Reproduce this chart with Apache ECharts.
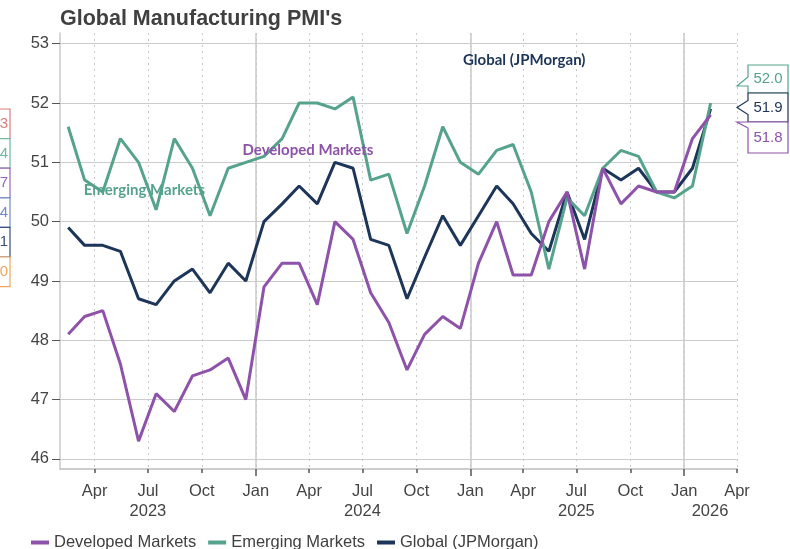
<!DOCTYPE html>
<html>
<head>
<meta charset="utf-8">
<script src="https://cdn.jsdelivr.net/npm/echarts@6/dist/echarts.min.js"></script>
<style>
  html, body { margin: 0; padding: 0; background: #ffffff; }
  #chart { width: 790px; height: 549px; }
</style>
</head>
<body>
<div id="chart"></div>
<script>
// Monthly readings, Feb 2023 – Feb 2026
const periods = [
  '2023-02','2023-03','2023-04','2023-05','2023-06','2023-07','2023-08','2023-09','2023-10','2023-11','2023-12',
  '2024-01','2024-02','2024-03','2024-04','2024-05','2024-06','2024-07','2024-08','2024-09','2024-10','2024-11','2024-12',
  '2025-01','2025-02','2025-03','2025-04','2025-05','2025-06','2025-07','2025-08','2025-09','2025-10','2025-11','2025-12',
  '2026-01','2026-02'
];
const developed = [48.1,48.4,48.5,47.6,46.3,47.1,46.8,47.4,47.5,47.7,47.0,
  48.9,49.3,49.3,48.6,50.0,49.7,48.8,48.3,47.5,48.1,48.4,48.2,
  49.3,50.0,49.1,49.1,50.0,50.5,49.2,50.9,50.3,50.6,50.5,50.5,
  51.4,51.8];
const emerging = [51.6,50.7,50.5,51.4,51.0,50.2,51.4,50.9,50.1,50.9,51.0,
  51.1,51.4,52.0,52.0,51.9,52.1,50.7,50.8,49.8,50.6,51.6,51.0,
  50.8,51.2,51.3,50.5,49.2,50.4,50.1,50.9,51.2,51.1,50.5,50.4,
  50.6,52.0];
const globalPmi = [49.9,49.6,49.6,49.5,48.7,48.6,49.0,49.2,48.8,49.3,49.0,
  50.0,50.3,50.6,50.3,51.0,50.9,49.7,49.6,48.7,49.4,50.1,49.6,
  50.1,50.6,50.3,49.8,49.5,50.5,49.7,50.9,50.7,50.9,50.5,50.5,
  50.9,51.9];

const seriesNames = ['Developed Markets', 'Emerging Markets', 'Global (JPMorgan)'];
const seriesColors = ['#8e52aa', '#56a38d', '#1c3559'];

// Axis ticks
const yTicks = [46, 47, 48, 49, 50, 51, 52, 53];
const quarterTicks = [
  '2023-04-01','2023-07-01','2023-10-01','2024-01-01','2024-04-01','2024-07-01','2024-10-01',
  '2025-01-01','2025-04-01','2025-07-01','2025-10-01','2026-01-01','2026-04-01'
];
const yearTicks = ['2024-01-01', '2025-01-01', '2026-01-01'];
// Year captions sit under the middle of each visible year span
const yearCaptions = ['2023-07-01', '2024-07-01', '2025-07-01', '2026-02-14'];
const monthNames = ['Jan','Feb','Mar','Apr','May','Jun','Jul','Aug','Sep','Oct','Nov','Dec'];

// In-plot series captions: [series index, date, value]
const captions = [
  [1, '2023-06-25', 50.53],
  [0, '2024-03-30', 51.20],
  [2, '2025-04-03', 52.73]
];

// Partly visible tags along the left edge
const edgeTags = [
  { text: '3', color: '#e07a7a' },
  { text: '4', color: '#6fb8a2' },
  { text: '7', color: '#9b65c0' },
  { text: '4', color: '#6f8cc8' },
  { text: '1', color: '#3a4f7e' },
  { text: '0', color: '#f4a55c' }
];

const FONT = "'Liberation Sans', Arial, sans-serif";

function ts(s) {
  const p = s.split('-').map(Number);
  return new Date(p[0], p[1] - 1, p[2] || 15).getTime();
}
function toPoints(vals) {
  return vals.map((v, i) => [ts(periods[i]), v]);
}

const xMin = ts('2023-02-01');
const xMax = ts('2026-04-01');
const values = [developed, emerging, globalPmi];

const chart = echarts.init(document.getElementById('chart'), null, { renderer: 'canvas' });

const grid = { left: 60, right: 53, top: 33, bottom: 80 };

const zOrder = [4, 3, 2];
const series = seriesNames.map((name, k) => ({
  name: name,
  type: 'line',
  xAxisIndex: 0,
  yAxisIndex: 0,
  data: toPoints(values[k]),
  showSymbol: false,
  symbol: 'none',
  z: zOrder[k],
  lineStyle: { width: 3, color: seriesColors[k] },
  itemStyle: { color: seriesColors[k] },
  emphasis: { disabled: true },
  markPoint: {
    symbol: 'rect',
    symbolSize: [1, 1],
    itemStyle: { color: 'rgba(0,0,0,0)' },
    silent: true,
    label: {
      show: true,
      position: 'inside',
      fontFamily: "Lato, 'Open Sans', sans-serif",
      fontWeight: 'bold',
      fontSize: 15,
      color: seriesColors[k],
      formatter: name
    },
    data: captions.filter(c => c[0] === k).map(c => ({ coord: [ts(c[1]), c[2]] }))
  }
}));

chart.setOption({
  animation: false,
  backgroundColor: '#ffffff',
  title: {
    text: "Global Manufacturing PMI's",
    left: 60,
    top: 8,
    padding: 0,
    textStyle: { fontFamily: FONT, fontWeight: 'bold', fontSize: 21.5, color: '#404040' }
  },
  legend: {
    data: seriesNames,
    left: 26,
    top: 529,
    icon: 'rect',
    itemWidth: 18,
    itemHeight: 4,
    itemGap: 12,
    textStyle: { fontFamily: FONT, fontSize: 16.5, color: '#404040' }
  },
  grid: grid,
  xAxis: [
    {
      type: 'value',
      position: 'bottom',
      min: xMin,
      max: xMax,
      axisLine: { show: true, onZero: false, lineStyle: { color: '#cccccc', width: 2 } },
      axisTick: {
        show: true,
        length: 4,
        customValues: quarterTicks.map(ts),
        lineStyle: { color: '#555555', width: 1.5 }
      },
      axisLabel: {
        customValues: quarterTicks.map(ts),
        margin: 14,
        fontFamily: FONT,
        fontSize: 16.5,
        color: '#444444',
        formatter: v => monthNames[new Date(v).getMonth()]
      },
      splitLine: { show: true, lineStyle: { color: '#c8c8c8', width: 1, type: [2, 4] } }
    },
    {
      type: 'value',
      position: 'bottom',
      min: xMin,
      max: xMax,
      axisLine: { show: false, onZero: false },
      axisTick: {
        show: true,
        length: 7,
        customValues: yearTicks.map(ts),
        lineStyle: { color: '#555555', width: 1.5 }
      },
      axisLabel: {
        customValues: yearCaptions.map(ts),
        margin: 34,
        fontFamily: FONT,
        fontSize: 16.5,
        color: '#444444',
        formatter: v => String(new Date(v).getFullYear())
      },
      splitLine: { show: true, lineStyle: { color: '#c8c8c8', width: 1.5, type: 'solid' } }
    }
  ],
  yAxis: {
    type: 'value',
    min: 45.83,
    max: 53.18,
    axisLine: { show: true, lineStyle: { color: '#c8c8c8', width: 1.5 } },
    axisTick: {
      show: true,
      length: 8,
      customValues: yTicks,
      lineStyle: { color: '#555555', width: 1 }
    },
    axisLabel: {
      customValues: yTicks,
      margin: 11,
      fontFamily: FONT,
      fontSize: 16.5,
      color: '#444444',
      formatter: v => String(Math.round(v))
    },
    splitLine: { show: true, lineStyle: { color: '#cccccc', width: 1.2 } }
  },
  series: series
});

// Latest-value tags at the right edge of the plot
function drawTags() {
  const w = chart.getWidth();
  const tipX = w - grid.right;
  const boxL = tipX + 11;
  const boxR = w - 2;
  const boxes = [
    { k: 1, top: 65, bottom: 93, shape: 'lowTip' },
    { k: 2, top: 93, bottom: 122, shape: 'midTip' },
    { k: 0, top: 122, bottom: 153, shape: 'topTip' }
  ];
  const els = [];
  boxes.forEach(b => {
    const color = seriesColors[b.k];
    const vals = values[b.k];
    const last = vals[vals.length - 1];
    let pts;
    if (b.shape === 'lowTip') {
      pts = [[boxL, b.top], [boxR, b.top], [boxR, b.bottom], [boxL, b.bottom],
             [boxL, b.bottom - 7], [tipX, b.bottom - 7], [boxL, b.top + 12]];
    } else if (b.shape === 'midTip') {
      const mid = (b.top + b.bottom) / 2;
      pts = [[boxL, b.top], [boxR, b.top], [boxR, b.bottom], [boxL, b.bottom],
             [boxL, mid + 7], [tipX, mid], [boxL, mid - 7]];
    } else {
      pts = [[tipX, b.top], [boxR, b.top], [boxR, b.bottom], [boxL, b.bottom],
             [boxL, b.top + 6]];
    }
    els.push({
      type: 'polygon',
      shape: { points: pts },
      style: { fill: '#ffffff', stroke: color, lineWidth: 1.2 },
      z: 100
    });
    els.push({
      type: 'text',
      x: (boxL + boxR) / 2,
      y: (b.top + b.bottom) / 2,
      style: {
        text: last.toFixed(1),
        fill: color,
        font: '15px ' + FONT,
        align: 'center',
        verticalAlign: 'middle'
      },
      z: 101
    });
  });

  // Partly visible tags on the left edge
  const tagTop = 109;
  const tagH = 29.6;
  edgeTags.forEach((t, i) => {
    const y0 = tagTop + i * tagH;
    els.push({
      type: 'rect',
      shape: { x: -40, y: y0, width: 50, height: tagH },
      style: { fill: '#ffffff', stroke: t.color, lineWidth: 1.2 },
      z: 100
    });
    els.push({
      type: 'text',
      x: 8,
      y: y0 + tagH / 2,
      style: {
        text: t.text,
        fill: t.color,
        font: '15px ' + FONT,
        align: 'right',
        verticalAlign: 'middle'
      },
      z: 101
    });
  });

  chart.setOption({ graphic: { elements: els } });
}
drawTags();
</script>
</body>
</html>
